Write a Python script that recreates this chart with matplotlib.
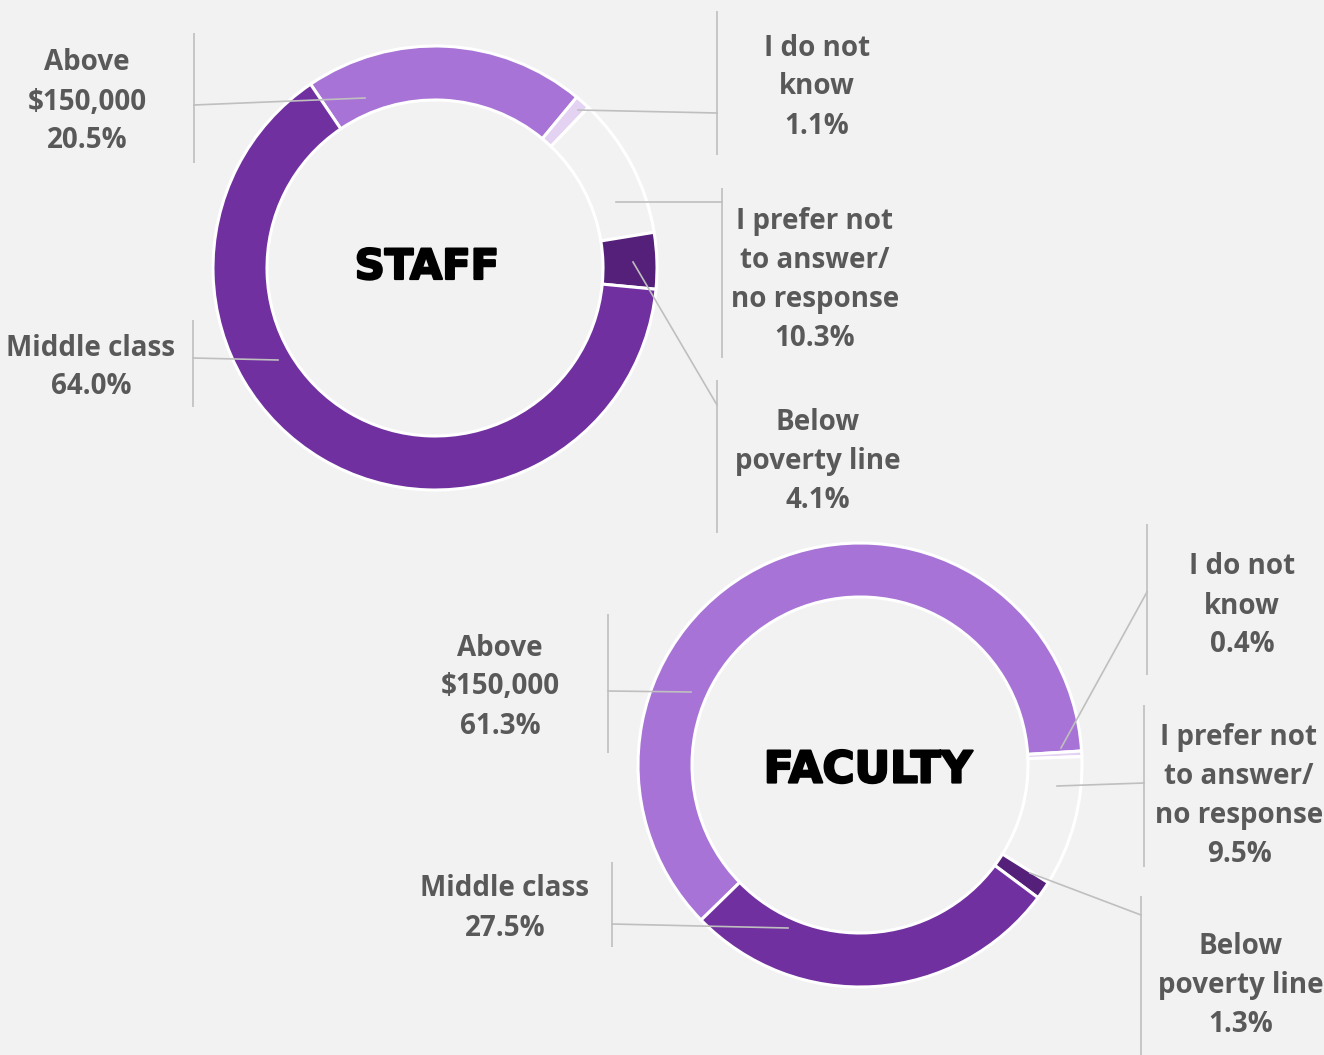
import matplotlib.pyplot as plt
import matplotlib.patheffects as pe

# donnees
categories = ["Above\n$150,000", "I do not\nknow", "I prefer not\nto answer/\nno response",
              "Below\npoverty line", "Middle class"]
staff_pct = [20.5, 1.1, 10.3, 4.1, 64.0]
faculty_pct = [61.3, 0.4, 9.5, 1.3, 27.5]
colors = ["#A873D6", "#E4D2F2", "#F2F2F2", "#55207A", "#7030A0"]

W, H = 1324, 1055
BG = "#F2F2F2"
GREY = "#595959"
LINE = "#BFBFBF"

# mise en page (pixels) : centre, angle de depart, etiquettes
charts = [
    {
        "title": "STAFF", "values": staff_pct, "center": (435, 268), "start": 124.1,
        "title_pos": (427, 267), "title_size": 30,
        # (x centre texte, y premiere ligne)
        "labels": [(87, 60), (817, 45), (815, 219), (818, 420), (91, 345)],
        # barre verticale (x, y0, y1)
        "brackets": [(194, 33, 163), (717, 11, 155), (722, 188, 358), (717, 380, 533), (193, 320, 407)],
        # trait de rappel (x0, y0, x1, y1)
        "leaders": [(194, 105, 365, 98), (717, 113, 578, 110), (722, 202, 616, 202),
                    (717, 405, 633, 262), (193, 358, 278, 360)],
    },
    {
        "title": "FACULTY", "values": faculty_pct, "center": (860, 765), "start": 224.3,
        "title_pos": (868, 770), "title_size": 31.5,
        "labels": [(500, 645), (1242, 564), (1239, 735), (1241, 944), (505, 886)],
        "brackets": [(608, 614, 753), (1147, 524, 675), (1144, 705, 867), (1141, 896, 1055), (612, 862, 947)],
        "leaders": [(608, 691, 691, 692), (1147, 592, 1061, 748), (1144, 783, 1057, 786),
                    (1141, 915, 1030, 873), (612, 924, 788, 928)],
    },
]

fig = plt.figure(figsize=(W / 100, H / 100), dpi=100)
fig.patch.set_facecolor(BG)
ax = fig.add_axes([0, 0, 1, 1])
ax.set_facecolor(BG)

for ch in charts:
    ax.pie(ch["values"], colors=colors, center=ch["center"], radius=222,
           startangle=-ch["start"], counterclock=True,
           wedgeprops=dict(width=54, edgecolor="white", linewidth=2.2))
    ax.text(ch["title_pos"][0], ch["title_pos"][1], ch["title"], ha="center", va="center",
            fontsize=ch["title_size"], fontweight="heavy", color="black", family="DejaVu Sans",
            path_effects=[pe.withStroke(linewidth=1.6, foreground="black")])

    for i, (cat, v) in enumerate(zip(categories, ch["values"])):
        lines = cat.split("\n") + [f"{v:.1f}%"]
        lx, ly = ch["labels"][i]
        for k, t in enumerate(lines):
            ax.text(lx, ly + 3 + 39 * k, t, ha="center", va="center", fontsize=20,
                    fontweight="bold", color=GREY, family="Open Sans")
        bx, by0, by1 = ch["brackets"][i]
        ax.plot([bx, bx], [by0, by1], color=LINE, lw=1.2, solid_capstyle="butt")
        x0, y0, x1, y1 = ch["leaders"][i]
        ax.plot([x0, x1], [y0, y1], color=LINE, lw=1.2)

ax.set_xlim(0, W)
ax.set_ylim(H, 0)
ax.set_aspect("equal")
ax.axis("off")

plt.savefig("out.png", dpi=100, facecolor=fig.get_facecolor())
